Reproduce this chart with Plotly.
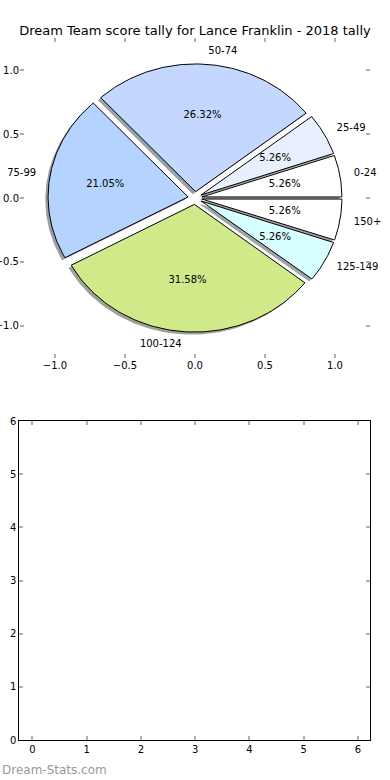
import numpy as np
import plotly.graph_objects as go

# ---- data ----
categories = ["0-24", "25-49", "50-74", "75-99", "100-124", "125-149", "150+"]
counts = [1, 1, 5, 4, 6, 1, 1]
colors = ["#ffffff", "#e8f0ff", "#c4d8ff", "#b4d4ff", "#d0ea8a", "#d8ffff", "#ffffff"]
explode = [0.05, 0.05, 0.05, 0.05, 0.05, 0.05, 0.05]
title_text = "Dream Team score tally for Lance Franklin - 2018 tally"
pie_ticks = [-1.0, -0.5, 0.0, 0.5, 1.0]
bottom_ticks = [0, 1, 2, 3, 4, 5, 6]
watermark = "Dream-Stats.com"

W, H = 390, 780
FONT = "DejaVu Sans"

def hex_to_rgb(h):
    h = h.lstrip("#")
    return tuple(int(h[i:i + 2], 16) for i in (0, 2, 4))

fig = go.Figure()

total = float(sum(counts))
fracs = [c / total for c in counts]
starts = np.concatenate([[0.0], np.cumsum(fracs)[:-1]]) * 360.0
ends = np.cumsum(fracs) * 360.0

wedges = []
for i, cat in enumerate(categories):
    t1, t2 = starts[i], ends[i]
    mid = np.deg2rad((t1 + t2) / 2.0)
    cx, cy = explode[i] * np.cos(mid), explode[i] * np.sin(mid)
    th = np.deg2rad(np.linspace(t1, t2, 80))
    xs = np.concatenate([[cx], cx + np.cos(th), [cx]])
    ys = np.concatenate([[cy], cy + np.sin(th), [cy]])
    wedges.append((xs, ys, cx, cy, mid))

# shadows (behind all wedges)
for i, (xs, ys, cx, cy, mid) in enumerate(wedges):
    r, g, b = hex_to_rgb(colors[i])
    fig.add_trace(go.Scatter(
        x=xs - 0.02, y=ys - 0.02, mode="lines", fill="toself",
        fillcolor=f"rgba({int(r*0.3)},{int(g*0.3)},{int(b*0.3)},0.5)",
        line=dict(width=0), hoverinfo="skip", showlegend=False,
        xaxis="x", yaxis="y"))

# wedges
for i, (xs, ys, cx, cy, mid) in enumerate(wedges):
    fig.add_trace(go.Scatter(
        x=xs, y=ys, mode="lines", fill="toself", fillcolor=colors[i],
        line=dict(color="black", width=1), name=categories[i],
        hoverinfo="name", showlegend=False, xaxis="x", yaxis="y"))

# labels and percentages
for i, (xs, ys, cx, cy, mid) in enumerate(wedges):
    lx, ly = cx + 1.1 * np.cos(mid), cy + 1.1 * np.sin(mid)
    fig.add_trace(go.Scatter(
        x=[lx], y=[ly], mode="text", text=[categories[i]],
        textposition="middle right" if lx > 0 else "middle left",
        textfont=dict(family=FONT, size=10, color="black"), cliponaxis=False,
        hoverinfo="skip", showlegend=False, xaxis="x", yaxis="y"))
    px, py = cx + 0.6 * np.cos(mid), cy + 0.6 * np.sin(mid)
    fig.add_trace(go.Scatter(
        x=[px], y=[py], mode="text", text=[f"{fracs[i]*100:.2f}%"],
        textposition="middle center",
        textfont=dict(family=FONT, size=10, color="black"), cliponaxis=False,
        hoverinfo="skip", showlegend=False, xaxis="x", yaxis="y"))

# empty bottom axes (invisible trace to activate)
fig.add_trace(go.Scatter(x=[None], y=[None], mode="markers", showlegend=False,
                         hoverinfo="skip", xaxis="x2", yaxis="y2"))

tickfont = dict(family=FONT, size=10, color="black")
common = dict(showgrid=False, zeroline=False, ticks="inside", ticklen=4,
              tickwidth=1.5, tickcolor="#b0b0b0", tickfont=tickfont,
              fixedrange=True, automargin=False)

fig.update_layout(
    width=W, height=H, autosize=False,
    margin=dict(l=0, r=0, t=0, b=0, autoexpand=False),
    paper_bgcolor="white", plot_bgcolor="white",
    title=dict(text=title_text, x=0.5, xanchor="center",
               y=1 - 30 / H, yanchor="middle",
               font=dict(family=FONT, size=13, color="black")),
    xaxis=dict(domain=[20 / W, 370 / W], range=[-1.25, 1.25],
               tickvals=pie_ticks, ticktext=[f"{v:.1f}".replace("-", "\u2212") for v in pie_ticks],
               anchor="y", showline=False, mirror="ticks", **common),
    yaxis=dict(domain=[1 - 357.6 / H, 1 - 38.4 / H], range=[-1.25, 1.25],
               tickvals=pie_ticks, ticktext=[f"{v:.1f}".replace("-", "\u2212") for v in pie_ticks],
               anchor="x", showline=False, mirror="ticks", **common),
    xaxis2=dict(domain=[19.3 / W, 370 / W], range=[-0.24, 6.22],
                tickvals=bottom_ticks, anchor="y2",
                showline=True, linecolor="black", linewidth=1, mirror="ticks", **common),
    yaxis2=dict(domain=[1 - 740 / H, 1 - 421 / H], range=[0, 6],
                tickvals=bottom_ticks, anchor="x2",
                showline=True, linecolor="black", linewidth=1, mirror="ticks", **common),
    annotations=[dict(text=watermark, xref="paper", yref="paper",
                      x=0, xanchor="left", y=1 - 770 / H, yanchor="middle",
                      showarrow=False,
                      font=dict(family=FONT, size=12, color="#999999"))],
)

fig.write_html("out.html", config={"displayModeBar": False},
               post_script="document.body.style.margin='0';document.body.style.overflow='hidden';")
